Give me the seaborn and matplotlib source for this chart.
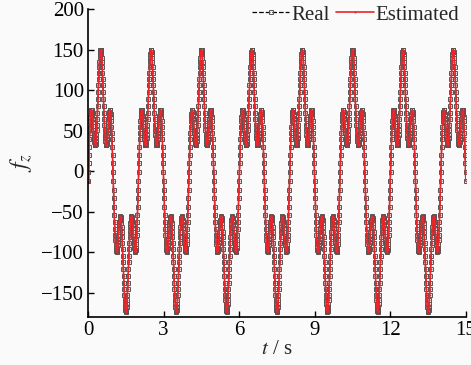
import numpy as np
import pandas as pd
import matplotlib
matplotlib.use("Agg")
import matplotlib.pyplot as plt
import seaborn as sns

# ---- data (one 2 s period, 0.01 s step) ----
dt = 0.01
t_end = 15.0
positive_lobe = [
    -12.0, -1.0, 9.7, 20.2, 30.0, 39.2, 47.6, 55.0, 61.3, 66.5, 70.5, 73.4, 75.0, 75.6, 75.0,
    73.4, 71.0, 67.9, 64.1, 60.0, 55.6, 51.1, 46.8, 42.7, 39.1, 36.1, 33.8, 32.4, 31.9, 32.5,
    34.0, 36.7, 40.4, 45.1, 50.8, 57.2, 64.4, 72.2, 80.4, 88.9, 97.4, 105.8, 113.9, 121.6,
    128.6, 134.8, 140.1, 144.4, 147.5, 149.4, 150.0, 149.4, 147.5, 144.4, 140.1, 134.8, 128.6,
    121.6, 113.9, 105.8, 97.4, 88.9, 80.4, 72.2, 64.4, 57.2, 50.8, 45.1, 40.4, 36.7, 34.0,
    32.5, 31.9, 32.4, 33.8, 36.1, 39.1, 42.7, 46.8, 51.1, 55.6, 60.0, 64.1, 67.9, 71.0, 73.4,
    75.0, 75.6, 75.0, 73.4, 70.5, 66.5, 61.3, 55.0, 47.6, 39.2, 30.0, 20.2, 9.7, -1.0,
]
negative_lobe = [
    -12.0, -23.0, -33.7, -44.2, -54.0, -63.2, -71.6, -79.0, -85.3, -90.5, -94.5, -97.4, -99.0,
    -99.6, -99.0, -97.4, -95.0, -91.9, -88.1, -84.0, -79.6, -75.1, -70.8, -66.7, -63.1, -60.1,
    -57.8, -56.4, -55.9, -56.5, -58.0, -60.7, -64.4, -69.1, -74.8, -81.2, -88.4, -96.2, -104.4,
    -112.9, -121.4, -129.8, -137.9, -145.6, -152.6, -158.8, -164.1, -168.4, -171.5, -173.4,
    -174.0, -173.4, -171.5, -168.4, -164.1, -158.8, -152.6, -145.6, -137.9, -129.8, -121.4,
    -112.9, -104.4, -96.2, -88.4, -81.2, -74.8, -69.1, -64.4, -60.7, -58.0, -56.5, -55.9,
    -56.4, -57.8, -60.1, -63.1, -66.7, -70.8, -75.1, -79.6, -84.0, -88.1, -91.9, -95.0, -97.4,
    -99.0, -99.6, -99.0, -97.4, -94.5, -90.5, -85.3, -79.0, -71.6, -63.2, -54.0, -44.2, -33.7,
    -23.0,
]
# estimator start-up transient (first samples)
estimated_start = [-12.0, -13.0, -13.0, -13.0, 20.0]

x_ticks = [0, 3, 6, 9, 12, 15]
y_ticks = [-150, -100, -50, 0, 50, 100, 150, 200]
labels = ["Real", "Estimated"]

# ---- build series ----
period = np.array(positive_lobe + negative_lobe)
n = int(round(t_end / dt)) + 1
t = np.arange(n) * dt
real = np.tile(period, n // len(period) + 1)[:n]
est = real.copy()
est[:len(estimated_start)] = estimated_start
df = pd.DataFrame({"t": t, "real": real, "est": est})

# ---- style ----
sns.set_style("ticks")
plt.rcParams["font.family"] = ["Liberation Serif", "DejaVu Serif"]
plt.rcParams["mathtext.fontset"] = "stix"
plt.rcParams["axes.unicode_minus"] = True

fig = plt.figure(figsize=(4.71, 3.65), dpi=100)
fig.patch.set_facecolor("#fafafa")
ax = fig.add_axes([0.187, 0.132, 0.802, 0.843])
ax.set_facecolor("#fafafa")

sns.lineplot(data=df, x="t", y="real", ax=ax, estimator=None, sort=False,
             color="black", linestyle="--", linewidth=0.9, marker="s",
             markersize=3.4, markerfacecolor="none", markeredgecolor="#555555",
             markeredgewidth=0.7, label=labels[0])
sns.lineplot(data=df, x="t", y="est", ax=ax, estimator=None, sort=False,
             color="#e8262b", linestyle="-", linewidth=1.2, marker=".",
             markersize=2.8, markeredgewidth=0, label=labels[1])

ax.set_xlim(0, 15)
ax.set_ylim(-180, 200)
ax.set_xticks(x_ticks)
ax.set_yticks(y_ticks)
ax.tick_params(direction="in", length=4, width=1, labelsize=15, colors="black", pad=3)
for s in ["top", "right"]:
    ax.spines[s].set_visible(False)
for s in ["left", "bottom"]:
    ax.spines[s].set_linewidth(1.2)
    ax.spines[s].set_color("black")

ax.set_xlabel("$t$ / s", fontsize=15, labelpad=0)
ax.set_ylabel("$f_z$", fontsize=17, labelpad=5)

leg = ax.legend(loc="upper right", bbox_to_anchor=(1.005, 1.04), ncol=2, frameon=False,
                fontsize=15, handlelength=1.8, handletextpad=0.1, columnspacing=0.3,
                borderaxespad=0.0)

fig.savefig("out.png", dpi=100, facecolor=fig.get_facecolor())
